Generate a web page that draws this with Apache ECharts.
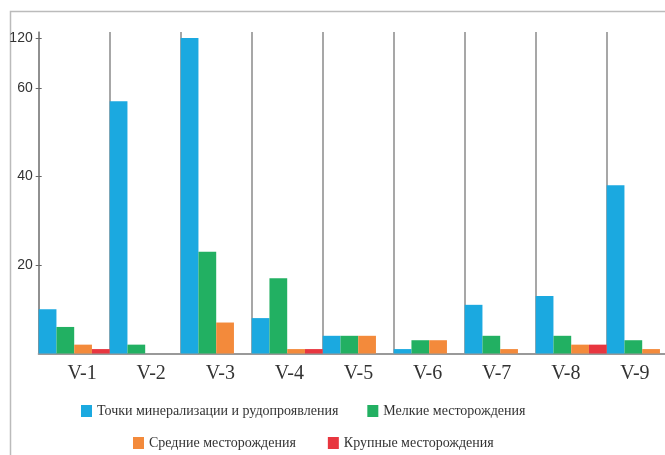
<!DOCTYPE html>
<html>
<head>
<meta charset="utf-8">
<script src="https://cdn.jsdelivr.net/npm/echarts@6/dist/echarts.min.js"></script>
<style>html,body{margin:0;padding:0;background:#fff;}#c{width:665px;height:455px;}</style>
</head>
<body>
<div id="c"></div>
<script>
var categories = ['V-1','V-2','V-3','V-4','V-5','V-6','V-7','V-8','V-9'];
var seriesNames = ['Точки минерализации и рудопроявления','Мелкие месторождения','Средние месторождения','Крупные месторождения'];
var points = [10,57,120,8,4,1,11,13,38];
var small  = [6,2,23,17,4,3,4,4,3];
var medium = [2,0,7,1,4,3,1,2,1];
var large  = [1,0,0,1,0,0,0,2,0];
var yTickLabels = [20,40,60,120];

// broken axis: linear up to 60, compressed 60..120
var BREAK = 60, UPPER = 11.3;
function toDisp(v){ return v <= BREAK ? v : BREAK + (v - BREAK) * UPPER / 60; }
function fromDisp(d){ return d <= BREAK + 1e-9 ? d : BREAK + (d - BREAK) * 60 / UPPER; }
var tickPos = yTickLabels.map(toDisp);
var YMAX = 321.5 / 4.425;
var GRID_W = 639;

var colors = ['#1ba9e0','#22b062','#f38a3b','#e8363f'];
var serif = '"Liberation Serif","DejaVu Serif",serif';
var sans = '"Liberation Sans",Arial,sans-serif';

var chart = echarts.init(document.getElementById('c'), null, {renderer:'canvas'});
var dataSets = [points, small, medium, large];
var option = {
  animation:false,
  backgroundColor:'#fff',
  color: colors,
  grid:[
    {left:38.7, top:32, width:GRID_W, height:321.5, outerBoundsMode:'none', containLabel:false},
    {left:47.5, top:32, width:622, height:321.5, outerBoundsMode:'none', containLabel:false}
  ],
  legend:[
    {data:[seriesNames[0], seriesNames[1]], left:81, top:404, orient:'horizontal', icon:'rect', itemWidth:11, itemHeight:12, itemGap:29, padding:0,
     textStyle:{fontFamily:serif, fontSize:14, color:'#333'}},
    {data:[seriesNames[2], seriesNames[3]], left:133, top:436, orient:'horizontal', icon:'rect', itemWidth:11, itemHeight:12, itemGap:32, padding:0,
     textStyle:{fontFamily:serif, fontSize:14, color:'#333'}}
  ],
  xAxis:[
    {type:'category', gridIndex:0, data:categories, boundaryGap:true,
     axisLine:{show:true, lineStyle:{color:'#999', width:2}},
     axisTick:{show:false}, axisLabel:{show:false},
     splitLine:{show:true, interval:0, lineStyle:{color:'#8a8a8a', width:1.5}}},
    {type:'category', gridIndex:1, data:categories,
     axisLine:{show:false}, axisTick:{show:false},
     axisLabel:{show:true, interval:0, margin:10, fontFamily:serif, fontSize:20, color:'#333'},
     splitLine:{show:false}, splitArea:{show:false}}
  ],
  yAxis:[
    {type:'value', gridIndex:0, min:0, max:YMAX, position:'left',
     axisLine:{show:true, lineStyle:{color:'#888', width:1.5}},
     axisTick:{show:true, length:3, lineStyle:{color:'#666'}, customValues:tickPos},
     axisLabel:{show:true, margin:6, fontFamily:sans, fontSize:14, color:'#333', customValues:tickPos,
       formatter:function(v){ return String(Math.round(fromDisp(v))); }},
     splitLine:{show:false}},
    {type:'value', gridIndex:0, min:0, max:YMAX, position:'right', offset:-GRID_W,
     axisLine:{show:false},
     axisTick:{show:true, inside:false, length:3, lineStyle:{color:'#666'}, customValues:tickPos},
     axisLabel:{show:false}, splitLine:{show:false}},
    {type:'value', gridIndex:1, min:0, max:YMAX, show:false, splitLine:{show:false}, axisLine:{show:false}}
  ],
  graphic:[
    {type:'polyline', shape:{points:[[10.5,455],[10.5,11.5],[665,11.5]]}, style:{stroke:'#bbb', lineWidth:1.5, fill:null}, silent:true}
  ],
  series: dataSets.map(function(arr, i){
    return {
      name: seriesNames[i], type:'bar', xAxisIndex:0, yAxisIndex:0,
      barGap:'0%', barCategoryGap:'0%',
      itemStyle:{color:colors[i]},
      data: arr.map(toDisp)
    };
  })
};
chart.setOption(option);
</script>
</body>
</html>
